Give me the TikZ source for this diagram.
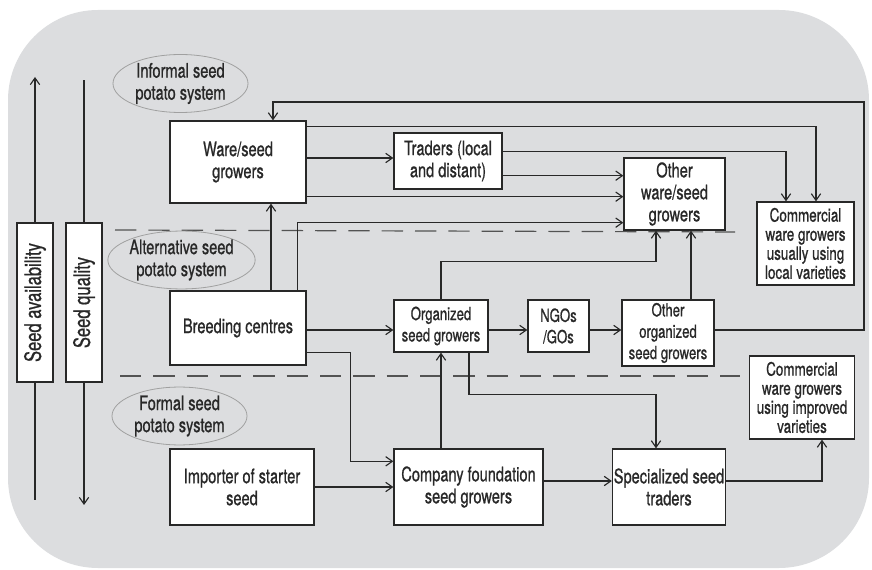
\documentclass[tikz,border=0pt]{standalone}
\usepackage{fontspec}
\setmainfont{TeX Gyre Heros}[FakeStretch=0.73,FakeBold=0.8]
\usetikzlibrary{arrows.meta,shapes.geometric,calc}

\definecolor{panelgray}{RGB}{220,221,223}
\definecolor{inkgray}{RGB}{40,40,40}
\definecolor{rimgray}{RGB}{160,160,160}

\tikzset{
  box/.style={draw=inkgray, line width=1pt, fill=white, inner sep=1pt, align=center,
    text=inkgray, font=\fontsize{15}{16.5}\selectfont},
  smallbox/.style={box, font=\fontsize{13.5}{16}\selectfont},
  commbox/.style={box, font=\fontsize{13.8}{14.3}\selectfont},
  system/.style={ellipse, draw=rimgray, line width=0.6pt, fill=panelgray, align=center,
    inner sep=0pt, minimum width=101.25pt, minimum height=39.75pt, text=inkgray,
    font=\fontsize{15}{16.5}\selectfont},
  link/.style={draw=inkgray, line width=0.85pt},
  flow/.style={link, -{Straight Barb[length=5pt,width=7pt]}},
  border/.style={draw=inkgray!80, line width=0.9pt, dash pattern=on 16pt off 9pt},
}

\begin{document}
\begin{tikzpicture}[x=0.75pt,y=0.75pt,yscale=-1,xscale=1]
\useasboundingbox (0,0) rectangle (872,570);

%Shape: Rounded Rect
\fill [panelgray, rounded corners=67.5pt] (8,10) rectangle (869,568);

%Dashed Lines
\draw [border] (115,230) -- (735,232);
\draw [border] (120,376) -- (740,376);

% Text Node
\draw (180.5,83.5) node [system] (informal) {Informal seed\\potato system};
% Text Node
\draw (181.5,260) node [system] (alternative) {Alternative seed\\potato system};
% Text Node
\draw (179.5,416) node [system] (formal) {Formal seed\\potato system};

%Shape: Rectangle
\draw (35,302.5) node [box, minimum width=27pt, minimum height=119.25pt, font=\fontsize{17}{18}\selectfont] (avail) {\rotatebox{90}{Seed availability}};
%Shape: Rectangle
\draw (84,302.5) node [box, minimum width=27pt, minimum height=119.25pt, font=\fontsize{17}{18}\selectfont] (quality) {\rotatebox{90}{Seed quality}};

%Shape: Rectangle
\draw (238,162) node [box, minimum width=102pt, minimum height=61.5pt] (ware) {Ware/seed\\growers};
%Shape: Rectangle
\draw (448,161) node [box, minimum width=81pt, minimum height=42pt] (traders) {Traders (local\\and distant)};
%Shape: Rectangle
\draw (674.5,194) node [box, minimum width=75.75pt, minimum height=54pt] (otherware) {Other\\ware/seed\\growers};
%Shape: Rectangle
\draw (805.5,243.5) node [commbox, minimum width=72.75pt, minimum height=62.25pt] (comloc) {Commercial\\ware growers\\usually using\\local varieties};
%Shape: Rectangle
\draw (238,328) node [box, minimum width=102pt, minimum height=55.5pt] (breed) {Breeding centres};
%Shape: Rectangle
\draw (441,326) node [smallbox, minimum width=70.5pt, minimum height=39pt] (org) {Organized\\seed growers};
%Shape: Rectangle
\draw (558.5,326) node [smallbox, minimum width=45.75pt, minimum height=39pt] (ngo) {NGOs\\/GOs};
%Shape: Rectangle
\draw (668,333) node [smallbox, minimum width=69pt, minimum height=49.5pt] (otherorg) {Other\\organized\\seed growers};
%Shape: Rectangle
\draw (802,397.5) node [commbox, minimum width=78.75pt, minimum height=62.25pt] (comimp) {Commercial\\ware growers\\using improved\\varieties};
%Shape: Rectangle
\draw (242,487) node [box, minimum width=108pt, minimum height=57pt] (importer) {Importer of starter\\seed};
%Shape: Rectangle
\draw (468.5,487) node [box, minimum width=111.75pt, minimum height=57pt] (company) {Company foundation\\seed growers};
%Shape: Rectangle
\draw (669,487) node [box, minimum width=84pt, minimum height=57pt] (spec) {Specialized seed\\traders};

\coordinate (availtop) at (35,77);
\coordinate (availend) at (35,500);
\coordinate (qualtop) at (84,80);
\coordinate (qualend) at (84,505);
\coordinate (loopcorner) at (864,102);

%Straight Lines
\draw [flow] (avail.north) -- (availtop);
\draw [link] (avail.south) -- (availend);
\draw [link] (quality.north) -- (qualtop);
\draw [flow] (quality.south) -- (qualend);

%Straight Lines
\draw [flow] ($(otherorg.east)+(0,-3)$) -| (loopcorner) -| ($(ware.north)+(35,0)$);
\draw [flow] ($(ware.north east)+(0,6)$) -| ($(comloc.north)+(10.5,0)$);
\draw [flow] ($(ware.east)+(0,-4)$) coordinate (w3) -- (w3 -| traders.west);
\draw [flow] ($(ware.south east)+(0,-7)$) coordinate (w4) -- (w4 -| otherware.west);
\draw [flow] ($(traders.north east)+(0,19)$) -| ($(comloc.north)+(-19.5,0)$);
\draw [flow] ($(traders.south east)+(0,-14)$) coordinate (t6) -- (t6 -| otherware.west);

%Straight Lines
\draw [flow] ($(breed.north)+(33,0)$) -- ($(ware.south)+(33,0)$);
\draw [flow] ($(breed.north east)+(-9,0)$) |- ($(otherware.south west)+(0,-8)$);
\draw [flow] ($(breed.east)+(0,2)$) coordinate (b9) -- (b9 -| org.west);
\draw [flow] ($(breed.south east)+(0,-13)$) -- ++(44,0) |- ($(company.north west)+(0,13)$);
\draw [flow] (importer.east) -- (importer.east -| company.west);

%Straight Lines
\draw [flow] (org.south |- company.north) -- (org.south);
\draw [flow] (org.north) -- ++(0,-38) -| ($(otherware.south)+(-18.5,0)$);
\draw [flow] ($(org.east)+(0,4)$) coordinate (o14) -- (o14 -| ngo.west);
\draw [flow] (o14 -| ngo.east) -- (o14 -| otherorg.west);
\draw [flow] ($(otherorg.north)+(23,0)$) coordinate (o16) -- (o16 |- otherware.south);
\draw [flow] ($(org.south)+(28,0)$) -- ++(0,42) -| ($(spec.north)+(-13,0)$);

%Straight Lines
\draw [flow] ($(company.east)+(0,-6)$) coordinate (c18) -- (c18 -| spec.west);
\draw [flow] ($(spec.east)+(0,-6)$) -| ($(comimp.south)+(20,0)$);

\end{tikzpicture}
\end{document}
